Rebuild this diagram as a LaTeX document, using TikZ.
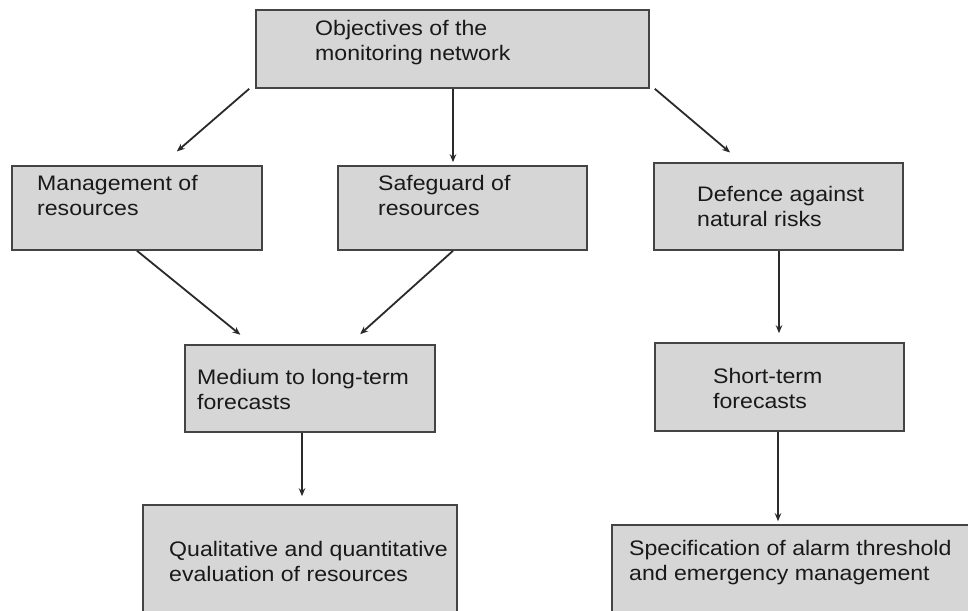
\documentclass[tikz,border=0pt]{standalone}
\usepackage{fontspec}
\setmainfont{Liberation Sans}[FakeStretch=1.1]
\usetikzlibrary{arrows.meta}
\definecolor{boxfill}{HTML}{D6D6D6}
\definecolor{boxline}{HTML}{444444}
\definecolor{arrowc}{HTML}{2A2A2A}
\begin{document}
\begin{tikzpicture}[x=1pt,y=-1pt,
  box/.style={draw=boxline, fill=boxfill, line width=1.6pt, inner sep=0pt, minimum width=#1},
  lbl/.style={anchor=north west, inner sep=0pt, align=left, text=black!90, font=\fontsize{21}{25}\selectfont},
  conn/.style={draw=arrowc, line width=1.8pt, -{Stealth[length=8pt,width=6.5pt]}}]
\useasboundingbox (0,0) rectangle (968,610);
\clip (0,0) rectangle (968,610);
\fill[white] (0,0) rectangle (968,610);
% boxes
\node[box=393pt, minimum height=78pt] (top) at (452.5,49) {};
\node[box=250pt, minimum height=84pt] (mgmt) at (137,208) {};
\node[box=249pt, minimum height=84pt] (safe) at (462.5,208) {};
\node[box=249pt, minimum height=87pt] (def) at (778.5,206.5) {};
\node[box=250pt, minimum height=87pt] (med) at (310,388.5) {};
\node[box=249pt, minimum height=88pt] (short) at (779.5,387) {};
\node[box=314pt, minimum height=135pt] (qual) at (300,572.5) {};
\node[box=373pt, minimum height=115pt] (spec) at (798.5,582.5) {};
% texts
\node[lbl] (ttop) at (315,20) {Objectives of the\\monitoring network};
\node[lbl] (tmgmt) at (37,175) {Management of\\resources};
\node[lbl] (tsafe) at (378,175) {Safeguard of\\resources};
\node[lbl] (tdef) at (697,186) {Defence against\\natural risks};
\node[lbl] (tmed) at (197,369) {Medium to long-term\\forecasts};
\node[lbl] (tshort) at (713,368) {Short-term\\forecasts};
\node[lbl] (tqual) at (169,541) {Qualitative and quantitative\\evaluation of resources};
\node[lbl] (tspec) at (629,540) {Specification of alarm threshold\\and emergency management};
% connectors
\draw[conn, shorten >=21pt] ([xshift=-6pt]top.south west) -- ([xshift=24pt]mgmt.north);
\draw[conn, shorten >=3pt] ([xshift=0.5pt]top.south) -- ([xshift=-9.5pt]safe.north);
\draw[conn, shorten >=15pt] ([xshift=5pt]top.south east) -- ([xshift=-37pt]def.north);
\draw[conn, shorten >=15pt] (mgmt.south) -- ([xshift=-58pt]med.north);
\draw[conn, shorten >=15pt] ([xshift=-9.5pt]safe.south) -- ([xshift=39pt]med.north);
\draw[conn, shorten >=9pt] ([xshift=0.5pt]def.south) -- ([xshift=0.5pt]def.south |- short.north);
\draw[conn, shorten >=8pt] ([xshift=-8pt]med.south) -- ([xshift=-8pt]med.south |- qual.north);
\draw[conn, shorten >=3pt] ([xshift=-1.5pt]short.south) -- ([xshift=-1.5pt]short.south |- spec.north);
\end{tikzpicture}
\end{document}
